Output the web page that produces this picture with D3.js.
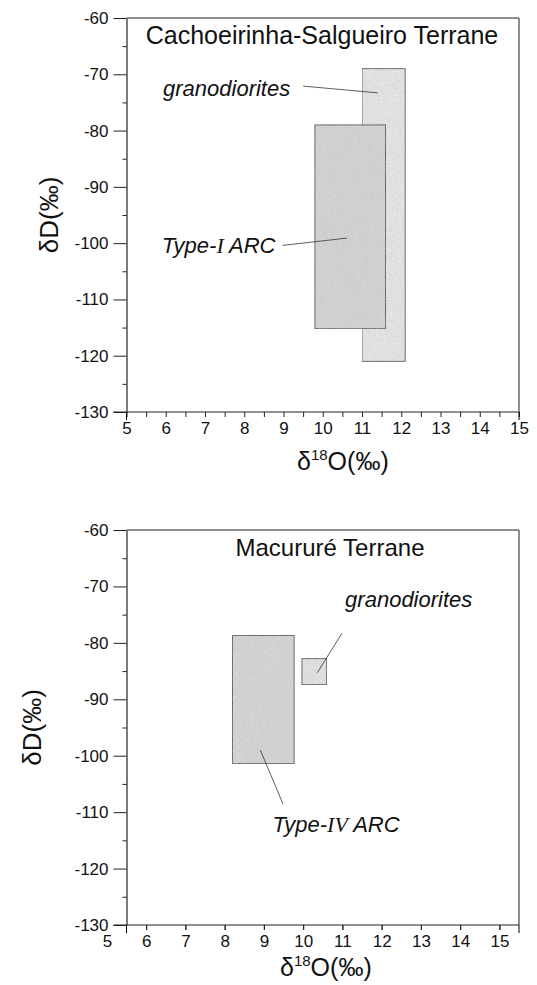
<!DOCTYPE html>
<html><head><meta charset="utf-8">
<script src="https://cdn.jsdelivr.net/npm/d3@7/dist/d3.min.js"></script>
<style>
body{margin:0;background:#fff;}
text{font-family:"Liberation Sans",Arial,sans-serif;fill:#111;}
</style></head>
<body><svg id="c" width="537" height="985"></svg>
<script>
// ---- data ----
const xMajorTicks = [5,6,7,8,9,10,11,12,13,14,15];
const yMajorTicks = [-60,-70,-80,-90,-100,-110,-120,-130];
const topTitle = "Cachoeirinha-Salgueiro Terrane";
const bottomTitle = "Macururé Terrane";
// boxes: [x0, x1, yTop, yBottom]
const topGranodiorites = [11.0, 12.1, -69, -121];
const topArc = [9.8, 11.6, -79, -115.2];
const bottomArc = [8.2, 9.77, -78.7, -101.4];
const bottomGranodiorites = [9.97, 10.6, -82.8, -87.4];
// annotation anchors in data units: [textX, textY, lineX1, lineY1, lineX2, lineY2]
const topGranoNote = [5.93, -73.8, 9.5, -72.1, 11.4, -73.3];
const topArcNote = [5.9, -101.8, 8.98, -100.4, 10.62, -99.1];
const botGranoNote = [11.07, -73.6, 10.99, -78.3, 10.36, -85.3];
const botArcNote = [9.22, -113.6, 8.91, -99.0, 9.49, -108.6];

const svg = d3.select("#c");
const defs = svg.append("defs");
function grain(id, base, amt){
  const f = defs.append("filter").attr("id", id).attr("x",0).attr("y",0).attr("width",1).attr("height",1);
  f.append("feTurbulence").attr("type","fractalNoise").attr("baseFrequency",1.4).attr("numOctaves",1).attr("seed",3).attr("result","n");
  f.append("feColorMatrix").attr("in","n").attr("type","matrix")
   .attr("values",`0 0 0 0 ${base} 0 0 0 0 ${base} 0 0 0 0 ${base} ${amt} ${amt} ${amt} 0 ${-amt*1.25}`).attr("result","g");
  f.append("feComposite").attr("in","g").attr("in2","SourceGraphic").attr("operator","in").attr("result","g2");
  f.append("feMerge").call(m=>{m.append("feMergeNode").attr("in","SourceGraphic");m.append("feMergeNode").attr("in","g2");});
}
grain("gr", 0.45, 0.5);

function panel(cfg){
  const x = d3.scaleLinear().domain(cfg.xDomain).range([cfg.left, cfg.right]);
  const y = d3.scaleLinear().domain([-60,-130]).range([cfg.top, cfg.bottom]);
  const g = svg.append("g");
  // frame top and right
  g.append("line").attr("x1",cfg.left).attr("x2",cfg.right).attr("y1",cfg.top).attr("y2",cfg.top).attr("stroke","#222").attr("stroke-width",1.2);
  g.append("line").attr("x1",cfg.right).attr("x2",cfg.right).attr("y1",cfg.top).attr("y2",cfg.bottom).attr("stroke","#444").attr("stroke-width",1.2);
  // y minor
  const yMinor = d3.range(-65,-130,-10);
  g.append("g").attr("transform",`translate(${cfg.left},0)`)
    .call(d3.axisLeft(y).tickValues(yMinor).tickSize(4).tickFormat(""))
    .call(a=>a.select(".domain").remove());
  const ya = g.append("g").attr("transform",`translate(${cfg.left},0)`)
    .call(d3.axisLeft(y).tickValues(yMajorTicks).tickSize(13).tickPadding(cfg.yPad).tickSizeOuter(0).tickFormat(d=>String(d)));
  ya.selectAll("text").style("font-size","17px");
  // x minor
  const xMinor = d3.range(cfg.xDomain[0]+0.5, cfg.xDomain[1], 1).concat(d3.range(Math.ceil(cfg.xDomain[0]), cfg.xDomain[1]+0.01, 1));
  g.append("g").attr("transform",`translate(0,${cfg.bottom})`)
    .call(d3.axisBottom(x).tickValues(xMinor).tickSize(5).tickFormat(""))
    .call(a=>a.select(".domain").remove());
  const xa = g.append("g").attr("transform",`translate(0,${cfg.bottom})`)
    .call(d3.axisBottom(x).tickValues(xMajorTicks).tickSize(0).tickPadding(10).tickSizeOuter(0).tickFormat(d=>String(d)));
  xa.selectAll("text").style("font-size","17px");
  xa.select(".domain").attr("d",`M${cfg.left-13},0H${cfg.right}`);
  g.append("line").attr("x1",cfg.left).attr("x2",cfg.left).attr("y1",cfg.bottom).attr("y2",cfg.bottom+8).attr("stroke","#000");
  g.append("line").attr("x1",cfg.right).attr("x2",cfg.right).attr("y1",cfg.bottom).attr("y2",cfg.bottom+8).attr("stroke","#000");
  g.selectAll(".tick line").attr("stroke","#222");
  g.selectAll(".domain").attr("stroke","#222").attr("stroke-width",1.2);
  // boxes
  cfg.boxes.forEach(b=>{
    g.append("rect").attr("x",x(b.d[0])).attr("y",y(b.d[2]))
      .attr("width",x(b.d[1])-x(b.d[0])).attr("height",y(b.d[3])-y(b.d[2]))
      .attr("fill",b.fill).attr("stroke","#555").attr("stroke-width",0.9).attr("filter","url(#gr)");
  });
  // notes
  cfg.notes.forEach(n=>{
    g.append("line").attr("x1",x(n.d[2])).attr("y1",y(n.d[3])).attr("x2",x(n.d[4])).attr("y2",y(n.d[5]))
      .attr("stroke","#333").attr("stroke-width",0.8);
    const t = g.append("text").attr("x",x(n.d[0])).attr("y",y(n.d[1])).style("font-size","22px").style("font-style","italic");
    n.parts.forEach(p=>{
      const s = t.append("tspan").text(p[0]);
      if(p[1]) s.style("font-family","'Liberation Serif','Times New Roman',serif");
    });
  });
  // title
  g.append("text").attr("x",cfg.titleX).attr("y",cfg.titleY).attr("text-anchor","middle").style("font-size",cfg.titleSize+"px").text(cfg.title);
  // y label
  g.append("text").attr("transform",`translate(${cfg.yLabX},${(cfg.top+cfg.bottom)/2}) rotate(-90)`)
    .attr("text-anchor","middle").style("font-size","26px").text("δD(‰)");
  // x label
  const xl = g.append("text").attr("x",cfg.xLabX).attr("y",cfg.xLabY).style("font-size","25px");
  xl.append("tspan").text("δ");
  xl.append("tspan").attr("dy",-10).style("font-size","15px").text("18");
  xl.append("tspan").attr("dy",10).text("O(‰)");
}

panel({xDomain:[5,15], left:126.5, right:519, top:18, bottom:412, yPad:5,
  boxes:[{d:topGranodiorites, fill:"#e6e6e6"},{d:topArc, fill:"#d4d4d4"}],
  notes:[{d:topGranoNote, parts:[["granodiorites",0]]},{d:topArcNote, parts:[["Type-",0],["I",1],[" ARC",0]]}],
  title:topTitle, titleX:322, titleY:44, titleSize:25, yLabX:58, xLabX:297, xLabY:470});
panel({xDomain:[5.5,15.5], left:126.5, right:519, top:530, bottom:925, yPad:5,
  boxes:[{d:bottomArc, fill:"#d6d6d6"},{d:bottomGranodiorites, fill:"#e2e2e2"}],
  notes:[{d:botGranoNote, parts:[["granodiorites",0]]},{d:botArcNote, parts:[["Type-",0],["IV",1],[" ARC",0]]}],
  title:bottomTitle, titleX:330, titleY:556, titleSize:24, yLabX:41, xLabX:280, xLabY:976});
</script></body></html>
